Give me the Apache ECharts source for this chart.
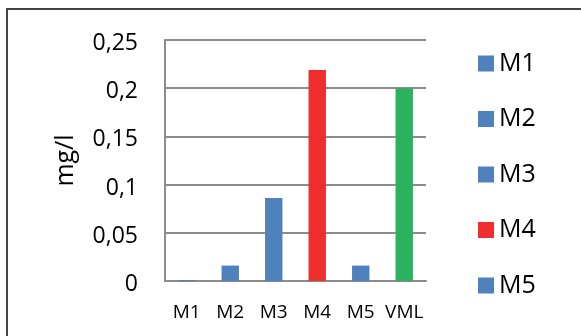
<!DOCTYPE html>
<html>
<head>
<meta charset="utf-8">
<script src="https://cdn.jsdelivr.net/npm/echarts@6/dist/echarts.min.js"></script>
<style>
  html, body { margin: 0; padding: 0; background: #fff; }
  #chart { width: 581px; height: 336px; }
</style>
</head>
<body>
<div id="chart"></div>
<script>
// Sample concentrations (mg/l) per sampling point, plus the limit value (VML)
const categories = ['M1', 'M2', 'M3', 'M4', 'M5', 'VML'];
const values = [0.001, 0.016, 0.086, 0.219, 0.016, 0.2];
const barColors = ['#4F81BD', '#4F81BD', '#4F81BD', '#EF2E2E', '#4F81BD', '#2BB25E'];
const legendNames = ['M1', 'M2', 'M3', 'M4', 'M5'];
const yTicks = { min: 0, max: 0.25, step: 0.05 };

const font = 'Open Sans, Noto Sans, sans-serif';
const grey = '#8C8C8C';

// One series per category, stacked so each bar sits centred in its own slot
const series = categories.map((name, i) => ({
  name: name,
  type: 'bar',
  stack: 'all',
  barWidth: '40%',
  itemStyle: { color: barColors[i] },
  data: categories.map((_, j) => (j === i ? values[i] : '-'))
}));

const chart = echarts.init(document.getElementById('chart'), null, { renderer: 'canvas' });
chart.setOption({
  animation: false,
  backgroundColor: '#fff',
  graphic: [{
    type: 'rect',
    shape: { x: 7, y: 9, width: 800, height: 600 },
    style: { fill: 'none', stroke: '#444', lineWidth: 2 },
    silent: true
  }],
  grid: { left: 165, right: 155, top: 40, bottom: 55, containLabel: false },
  legend: {
    orient: 'vertical',
    left: 478,
    top: 51,
    data: legendNames,
    icon: 'rect',
    itemWidth: 16,
    itemHeight: 16,
    itemGap: 30.5,
    textStyle: { fontFamily: font, fontSize: 25, color: '#000', lineHeight: 25 },
    padding: 0
  },
  xAxis: {
    type: 'category',
    data: categories,
    axisLine: { lineStyle: { color: grey, width: 2 } },
    axisTick: { show: false },
    axisLabel: { fontFamily: font, fontSize: 19, color: '#000', margin: 22, interval: 0 }
  },
  yAxis: {
    type: 'value',
    min: yTicks.min,
    max: yTicks.max,
    interval: yTicks.step,
    name: 'mg/l',
    nameLocation: 'middle',
    nameGap: 87,
    nameRotate: 90,
    nameTextStyle: { fontFamily: font, fontSize: 25, color: '#000' },
    axisLine: { show: true, lineStyle: { color: grey, width: 2 } },
    axisTick: { show: false },
    splitLine: { lineStyle: { color: grey, width: 2 } },
    axisLabel: {
      fontFamily: font, fontSize: 23, color: '#000', margin: 27,
      formatter: v => '{t|' + String(Math.round(v * 100) / 100).replace('.', ',') + '}',
      rich: { t: { fontFamily: font, fontSize: 23, color: '#000', padding: [7, 0, 0, 0] } }
    }
  },
  series: series
});
</script>
</body>
</html>
